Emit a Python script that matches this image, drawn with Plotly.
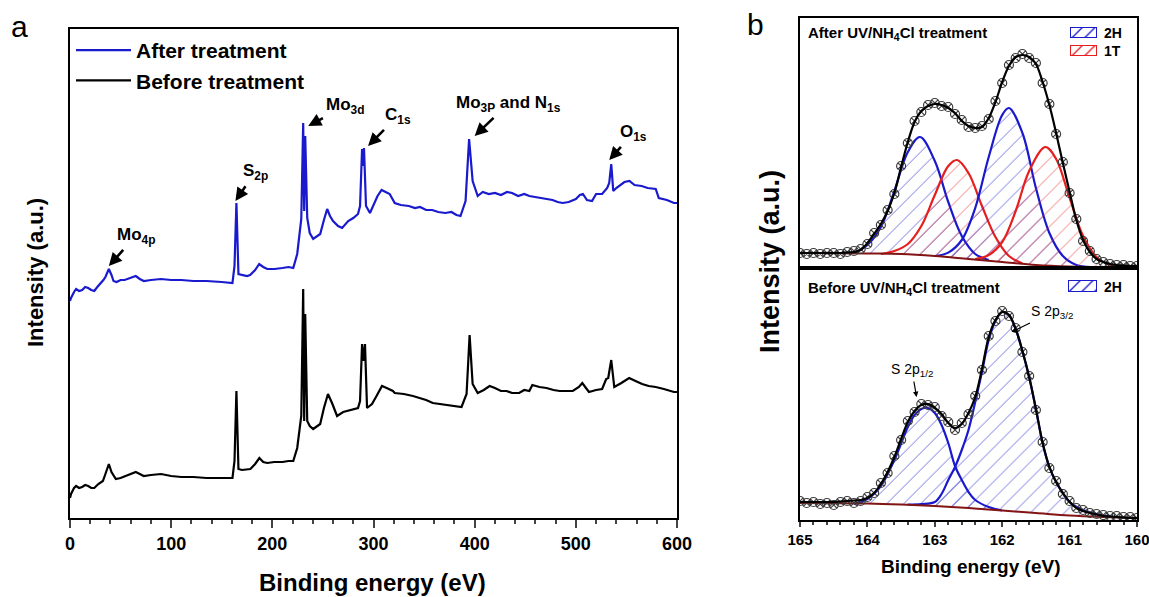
import plotly.graph_objects as go

W, H = 1149, 597

# ---------------- Panel a: survey spectra (arbitrary units) ----------------
after_E = [0, 1, 4, 6, 9, 12, 15, 18, 21, 24, 27, 30, 33, 35, 38.4, 41, 43, 46, 50, 54,
           57, 61, 65, 69, 73, 80, 90, 100, 110, 122, 135, 150, 160.6, 162.6, 164.5, 166.5,
           170, 175, 178, 183, 187, 191, 195, 202, 210, 216, 220.7, 224.6, 228.6, 230.5,
           231.5, 232.5, 234.5, 237, 240.4, 244, 247.3, 251, 254.2, 257, 260, 265,
           269, 275, 280, 284.7, 286.7, 288.7, 289.6, 290.6, 292.6, 296.5, 300, 304,
           308, 312, 316, 321, 327, 335, 341, 346, 352, 358, 364, 371,
           377, 382, 386, 391, 394.5, 398, 403, 408, 414, 420, 426, 432,
           437, 443, 449, 454, 460, 466, 471, 477, 482, 487, 493, 500,
           504, 507, 511, 516, 520, 526, 531, 533, 535, 537, 540, 543,
           548, 553, 558, 565, 571, 579, 582, 590, 597, 600]
after_I = [217, 220, 226, 229, 227, 228, 231, 230, 228, 227, 231, 234, 238, 241, 249, 243, 237, 236, 238, 238,
           239, 240, 242, 239, 237, 238, 239, 238, 238, 237, 237, 236, 235, 252, 315, 244,
           243, 242, 243, 248, 254, 251, 249, 249, 250, 251, 250, 264, 299, 395,
           307, 382, 300, 285, 279, 282, 284, 298, 309, 302, 297, 292,
           290, 297, 300, 304, 312, 369, 352, 370, 312, 305, 313, 322,
           328, 326, 324, 315, 313, 312, 310, 311, 308, 308, 306, 305,
           306, 303, 302, 317, 379, 337, 322, 326, 324, 325, 323, 326,
           325, 322, 324, 322, 321, 320, 319, 318, 316, 315, 316, 319,
           323, 324, 318, 317, 324, 324, 330, 335, 354, 327, 330, 332,
           336, 337, 333, 332, 330, 329, 320, 318, 315, 315]

before_E = [0, 1, 4, 6, 9, 12, 15, 18, 21, 24, 28, 32.5, 35, 38.4, 41, 45.3, 50, 55, 60, 65,
            69, 72.9, 80, 90, 100, 110, 122, 135, 150, 160.6, 162.6, 164.5, 166.5, 170, 178.3, 183,
            187.2, 191, 195, 202, 210, 216, 220.7, 224.6, 228.6, 230.5, 231.5, 232.5, 234.5, 237,
            240.4, 244, 247.3, 251, 255, 259, 264, 270, 280, 284.7, 286.7, 288.7, 290, 291.6,
            293.6, 298.5, 303, 308.4, 313, 319.2, 321, 330, 339, 346, 352, 358.6, 365, 372.4,
            380, 387, 392, 395, 398, 403, 409, 414.8, 420, 426, 431.5, 437, 444, 449,
            454, 457, 464, 471, 478, 484, 490.6, 497, 503, 506.4, 510, 513, 520, 526,
            530, 532, 535, 538, 545, 552.7, 559, 565.5, 572, 579, 587, 597, 600]
before_I = [20, 24, 30, 32, 30, 31, 33, 32, 30, 30, 34, 37, 44, 54, 46, 39, 40, 42, 44, 46,
            44, 42, 43, 44, 42, 41, 41, 40, 40, 40, 57, 127, 49, 48, 49, 54,
            60, 56, 55, 56, 56, 57, 57, 70, 102, 229, 97, 204, 97, 92,
            89, 92, 94, 110, 124, 115, 102, 106, 109, 110, 117, 174, 157, 174,
            110, 114, 122, 132, 130, 127, 125, 124, 122, 120, 118, 115, 114, 113,
            112, 111, 124, 183, 134, 125, 128, 132, 130, 127, 127, 125, 125, 128,
            127, 133, 131, 130, 128, 127, 127, 127, 131, 135, 130, 126, 128, 129,
            139, 140, 158, 131, 135, 140, 137, 134, 132, 131, 129, 126, 126]

survey_ticks = [0, 100, 200, 300, 400, 500, 600]

# ---------------- Panel b: S 2p high-resolution ----------------
hr_E = [165.0, 164.9, 164.8, 164.7, 164.6, 164.5, 164.4, 164.3, 164.2, 164.1,
        164.0, 163.9, 163.8, 163.7, 163.6, 163.5, 163.4, 163.3, 163.2, 163.1,
        163.0, 162.9, 162.8, 162.7, 162.6, 162.5, 162.4, 162.3, 162.2, 162.1,
        162.0, 161.9, 161.8, 161.7, 161.6, 161.5, 161.4, 161.3, 161.2, 161.1,
        161.0, 160.9, 160.8, 160.7, 160.6, 160.5, 160.4, 160.3, 160.2, 160.1, 160.0]

# After UV/NH4Cl treatment
after_raw = [15, 14, 15, 14, 15, 15, 14, 16, 17, 19,
             24, 35, 43, 58, 74, 102, 125, 147, 156, 163,
             165, 162, 161, 154, 148, 141, 140, 142, 149, 167,
             185, 203, 210, 214, 210, 205, 185, 164, 134, 106,
             75, 49, 27, 17, 9, 6, 4, 3, 3, 2, 2]
after_fit = [15, 15, 15, 15, 15, 15, 15, 15.5, 16, 18,
             25, 34, 44, 57, 75, 101, 126, 146, 157, 162,
             164, 163, 160, 155, 147, 142, 140, 141, 150, 166,
             186, 202, 211, 213, 211, 204, 186, 163, 135, 105,
             76, 48, 28, 16, 9, 6, 4, 3, 2.5, 2, 2]
after_bg_E = [165, 164, 163.5, 163, 162.5, 162, 161.5, 161, 160.5, 160]
after_bg_I = [15, 14.5, 14, 12, 9, 6, 3, 1.5, 1, 1]

a2h1_E = [164.2, 164.0, 163.8, 163.6, 163.4, 163.22, 163.0, 162.8, 162.6, 162.4, 162.2]
a2h1_I = [15, 23, 41, 77, 116, 131, 107, 66, 32, 14, 8]
a1t1_E = [163.8, 163.6, 163.4, 163.2, 163.0, 162.8, 162.67, 162.5, 162.3, 162.1, 161.9, 161.7]
a1t1_I = [14, 17, 24, 42, 73, 102, 108, 95, 62, 31, 12, 4.5]
a2h2_E = [163.0, 162.8, 162.6, 162.4, 162.2, 162.0, 161.9, 161.7, 161.5, 161.3, 161.1, 160.9, 160.7]
a2h2_I = [12, 15.4, 28, 60, 111, 153, 160, 135, 80, 35, 12, 3, 1]
a1t2_E = [162.4, 162.2, 162.0, 161.8, 161.6, 161.36, 161.2, 161.0, 160.8, 160.6, 160.4, 160.2]
a1t2_I = [9, 13, 26, 57, 97, 121, 109, 70, 32, 11, 3, 1]

# Before UV/NH4Cl treatment
before_raw = [19, 17, 18, 16, 17, 15, 18, 19, 17, 19,
              23, 27, 37, 47, 64, 80, 99, 108, 116, 115,
              113, 104, 98, 90, 97, 106, 124, 150, 184, 199,
              209, 204, 192, 168, 144, 110, 78, 52, 39, 26,
              19, 12, 10, 7, 6, 5, 4, 4, 3, 3, 2]
before_fit = [18, 18, 18, 18, 18, 18, 18.5, 19, 19.5, 20,
              22, 27, 36, 48, 63, 81, 98, 109, 115, 116,
              112, 106, 97, 92, 96, 107, 123, 151, 183, 200,
              208, 205, 191, 169, 143, 111, 77, 53, 38, 27,
              18, 12, 9, 7, 5.5, 4, 3.5, 3, 2.5, 2, 2]
before_bg_E = [165, 164, 163.5, 163, 162.5, 162, 161.5, 161, 160.5, 160]
before_bg_I = [17, 16.5, 15.5, 14, 12, 9.5, 7, 4.5, 3, 2]

b2h1_E = [164.2, 164.0, 163.8, 163.6, 163.4, 163.3, 163.2, 163.1, 163.0, 162.9,
          162.8, 162.7, 162.6, 162.5, 162.4, 162.2, 162.0]
b2h1_I = [16, 21, 34, 60, 93, 105, 111, 112, 107, 95, 77, 54, 40, 28, 20, 13, 9.5]
b2h2_E = [163.4, 163.2, 163.0, 162.9, 162.8, 162.7, 162.6, 162.5, 162.4, 162.3,
          162.2, 162.1, 162.0, 161.9, 161.8, 161.7, 161.6, 161.5, 161.4, 161.3,
          161.2, 161.1, 161.0, 160.8, 160.6, 160.4, 160.2]
b2h2_I = [15.5, 16, 18, 26, 40, 53, 70, 90, 118, 148,
          180, 199, 208, 205, 191, 169, 143, 111, 77, 53,
          38, 27, 18, 10, 6, 3.5, 2.5]

hr_ticks = [165, 164, 163, 162, 161, 160]
hr_minor = [164.8, 164.6, 164.4, 164.2, 163.8, 163.6, 163.4, 163.2, 162.8, 162.6,
            162.4, 162.2, 161.8, 161.6, 161.4, 161.2, 160.8, 160.6, 160.4, 160.2]

BLUE = "rgb(25,25,205)"
RED = "rgb(230,30,30)"
MAROON = "rgb(130,20,20)"
FONT = "Liberation Sans"

fig = go.Figure()

fig.add_trace(go.Scatter(x=after_E, y=after_I, mode="lines", name="<b>After treatment</b>",
                         line=dict(color=BLUE, width=2.2), xaxis="x", yaxis="y"))
fig.add_trace(go.Scatter(x=before_E, y=before_I, mode="lines", name="<b>Before treatment</b>",
                         line=dict(color="black", width=2.2), xaxis="x", yaxis="y"))


def bg_interp(E, bgE, bgI):
    # linear reading of the background line between listed points (for closing fills)
    for i in range(len(bgE) - 1):
        e0, e1 = bgE[i], bgE[i + 1]
        if e1 <= E <= e0:
            t = (e0 - E) / (e0 - e1)
            return bgI[i] + t * (bgI[i + 1] - bgI[i])
    return bgI[-1]


def hatch(color, size=12, solidity=0.07, opacity=0.7, bg="rgba(0,0,0,0)"):
    return dict(shape="/", fgcolor=color, bgcolor=bg, size=size, solidity=solidity, fgopacity=opacity)


def comp(E, I, bgE, bgI, color, ax, ay):
    xs = list(E) + list(reversed(E))
    ys = list(I) + [bg_interp(e, bgE, bgI) for e in reversed(E)]
    fig.add_trace(go.Scatter(x=xs, y=ys, mode="none", fill="toself", fillcolor="rgba(0,0,0,0)",
                             fillpattern=hatch(color), xaxis=ax, yaxis=ay, hoverinfo="skip",
                             showlegend=False))
    fig.add_trace(go.Scatter(x=E, y=I, mode="lines", line=dict(color=color, width=2.2, shape="spline"),
                             xaxis=ax, yaxis=ay, showlegend=False))


comp(a2h1_E, a2h1_I, after_bg_E, after_bg_I, BLUE, "x2", "y2")
comp(a1t1_E, a1t1_I, after_bg_E, after_bg_I, RED, "x2", "y2")
comp(a2h2_E, a2h2_I, after_bg_E, after_bg_I, BLUE, "x2", "y2")
comp(a1t2_E, a1t2_I, after_bg_E, after_bg_I, RED, "x2", "y2")
fig.add_trace(go.Scatter(x=after_bg_E, y=after_bg_I, mode="lines",
                         line=dict(color=MAROON, width=2, shape="spline"),
                         xaxis="x2", yaxis="y2", showlegend=False))
fig.add_trace(go.Scatter(x=hr_E, y=after_raw, mode="markers",
                         marker=dict(symbol="circle-x-open", size=9, color="rgb(60,60,60)", line=dict(width=1.2)),
                         xaxis="x2", yaxis="y2", showlegend=False))
fig.add_trace(go.Scatter(x=hr_E, y=after_fit, mode="lines", line=dict(color="black", width=2.2, shape="spline"),
                         xaxis="x2", yaxis="y2", showlegend=False))

comp(b2h1_E, b2h1_I, before_bg_E, before_bg_I, BLUE, "x3", "y3")
comp(b2h2_E, b2h2_I, before_bg_E, before_bg_I, BLUE, "x3", "y3")
fig.add_trace(go.Scatter(x=before_bg_E, y=before_bg_I, mode="lines",
                         line=dict(color=MAROON, width=2, shape="spline"),
                         xaxis="x3", yaxis="y3", showlegend=False))
fig.add_trace(go.Scatter(x=hr_E, y=before_raw, mode="markers",
                         marker=dict(symbol="circle-x-open", size=9, color="rgb(60,60,60)", line=dict(width=1.2)),
                         xaxis="x3", yaxis="y3", showlegend=False))
fig.add_trace(go.Scatter(x=hr_E, y=before_fit, mode="lines", line=dict(color="black", width=2.2, shape="spline"),
                         xaxis="x3", yaxis="y3", showlegend=False))

# legend swatches for panel b (hatched rectangles on small helper axes)
swatch_x = [0, 1, 1, 0, 0]
swatch_y = [0, 0, 1, 1, 0]
for color, ax, ay in [(BLUE, "x4", "y4"), (RED, "x5", "y5"), (BLUE, "x6", "y6")]:
    fig.add_trace(go.Scatter(x=swatch_x, y=swatch_y, mode="lines", fill="toself", fillcolor="white",
                             line=dict(color=color, width=2),
                             fillpattern=hatch(color, size=9, solidity=0.15, opacity=1, bg="white"),
                             xaxis=ax, yaxis=ay, showlegend=False, hoverinfo="skip"))

px = lambda v: v / W
py = lambda v: 1 - v / H

axis_common = dict(showline=True, linecolor="black", linewidth=2, mirror=True, showgrid=False,
                   zeroline=False, automargin=False)
hidden = dict(visible=False, automargin=False, fixedrange=True)

fig.update_layout(
    width=W, height=H, margin=dict(l=0, r=0, t=0, b=0, autoexpand=False),
    paper_bgcolor="white", plot_bgcolor="white",
    font=dict(family=FONT, color="black"),
    xaxis=dict(domain=[px(70), px(677)], range=[0, 600], anchor="y",
               tickvals=survey_ticks, ticktext=["<b>%d</b>" % t for t in survey_ticks],
               ticks="outside", ticklen=8, tickwidth=1.5, ticklabeloverflow="allow",
               minor=dict(dtick=20, ticks="outside", ticklen=4, tickwidth=1.5),
               tickfont=dict(size=18, family="Liberation Sans Narrow, " + FONT),
               **axis_common),
    yaxis=dict(domain=[py(518), py(29)], range=[0, 489], anchor="x", showticklabels=False, ticks="",
               **axis_common),
    xaxis2=dict(domain=[px(800), px(1137)], range=[165, 160], anchor="y2", showticklabels=False,
                ticks="", **axis_common),
    yaxis2=dict(domain=[py(268), py(18)], range=[0, 250], anchor="x2", showticklabels=False, ticks="",
                **axis_common),
    xaxis3=dict(domain=[px(800), px(1137)], range=[165, 160], anchor="y3",
                tickvals=hr_ticks, ticktext=["<b>%d</b>" % t for t in hr_ticks],
                ticks="outside", ticklen=5, tickwidth=1.5, ticklabeloverflow="allow",
                minor=dict(tickvals=hr_minor, ticks="outside", ticklen=3, tickwidth=1.5),
                tickfont=dict(size=15, family=FONT),
                **axis_common),
    yaxis3=dict(domain=[py(520), py(268)], range=[0, 252], anchor="x3", showticklabels=False, ticks="",
                **axis_common),
    xaxis4=dict(domain=[px(1070), px(1097)], range=[0, 1], anchor="y4", **hidden),
    yaxis4=dict(domain=[py(38), py(27)], range=[0, 1], anchor="x4", **hidden),
    xaxis5=dict(domain=[px(1070), px(1097)], range=[0, 1], anchor="y5", **hidden),
    yaxis5=dict(domain=[py(56), py(45)], range=[0, 1], anchor="x5", **hidden),
    xaxis6=dict(domain=[px(1068), px(1097)], range=[0, 1], anchor="y6", **hidden),
    yaxis6=dict(domain=[py(292), py(280)], range=[0, 1], anchor="x6", **hidden),
    legend=dict(x=px(71), y=py(30), xanchor="left", yanchor="top", bgcolor="rgba(0,0,0,0)",
                font=dict(size=21), itemwidth=55, tracegroupgap=0),
    showlegend=True,
)


def ptext(text, x, y, size, **kw):
    d = dict(text=text, x=px(x), y=py(y), xref="paper", yref="paper", showarrow=False,
             xanchor=kw.pop("xanchor", "center"), yanchor=kw.pop("yanchor", "middle"),
             font=dict(size=size, family=FONT))
    d.update(kw)
    return d


ann = [
    ptext("a", 19, 27, 30),
    ptext("b", 755, 25, 30),
    ptext("<b>Binding energy (eV)</b>", 373, 582, 24),
    ptext("<b>Intensity (a.u.)</b>", 35, 273, 22, textangle=-90),
    ptext("<b>Binding energy (eV)</b>", 970, 566, 19),
    ptext("<b>Intensity (a.u.)</b>", 770, 262, 27, textangle=-90),
    ptext("<b>After UV/NH<sub>4</sub>Cl treatment</b>", 806, 33, 15, xanchor="left"),
    ptext("<b>Before UV/NH<sub>4</sub>Cl treatment</b>", 806, 288, 15, xanchor="left"),
    ptext("<b>2H</b>", 1102, 33, 14, xanchor="left"),
    ptext("<b>1T</b>", 1102, 51, 14, xanchor="left"),
    ptext("<b>2H</b>", 1102, 287, 14, xanchor="left"),
]

labels = [("Mo<sub>4p</sub>", 65, 282, 38.4, 252), ("S<sub>2p</sub>", 183, 346, 163.5, 317),
          ("Mo<sub>3d</sub>", 272, 412, 235.5, 392), ("C<sub>1s</sub>", 324, 402, 294.6, 372),
          ("Mo<sub>3P</sub> and N<sub>1s</sub>", 433, 414, 400, 382), ("O<sub>1s</sub>", 557, 385, 533, 358)]
for t, lx, ly, hx, hy in labels:
    ann.append(dict(text="<b>%s</b>" % t, x=hx, y=hy, ax=lx, ay=ly, xref="x", yref="y",
                    axref="x", ayref="y", showarrow=True, arrowhead=2, arrowsize=1,
                    arrowwidth=2.6, arrowcolor="black", standoff=0, startstandoff=2,
                    font=dict(size=17, family=FONT)))

for t, lx, ly, hx, hy in [("S 2p<sub>1/2</sub>", 163.34, 150, 163.27, 123),
                          ("S 2p<sub>3/2</sub>", 161.26, 208, 161.86, 188)]:
    ann.append(dict(text=t, x=hx, y=hy, ax=lx, ay=ly, xref="x3", yref="y3", axref="x3", ayref="y3",
                    showarrow=True, arrowhead=2, arrowsize=0.9, arrowwidth=1.2, arrowcolor="black",
                    standoff=0, startstandoff=1, font=dict(size=14, family=FONT)))

fig.update_layout(annotations=ann)
fig.write_html("out.html")
